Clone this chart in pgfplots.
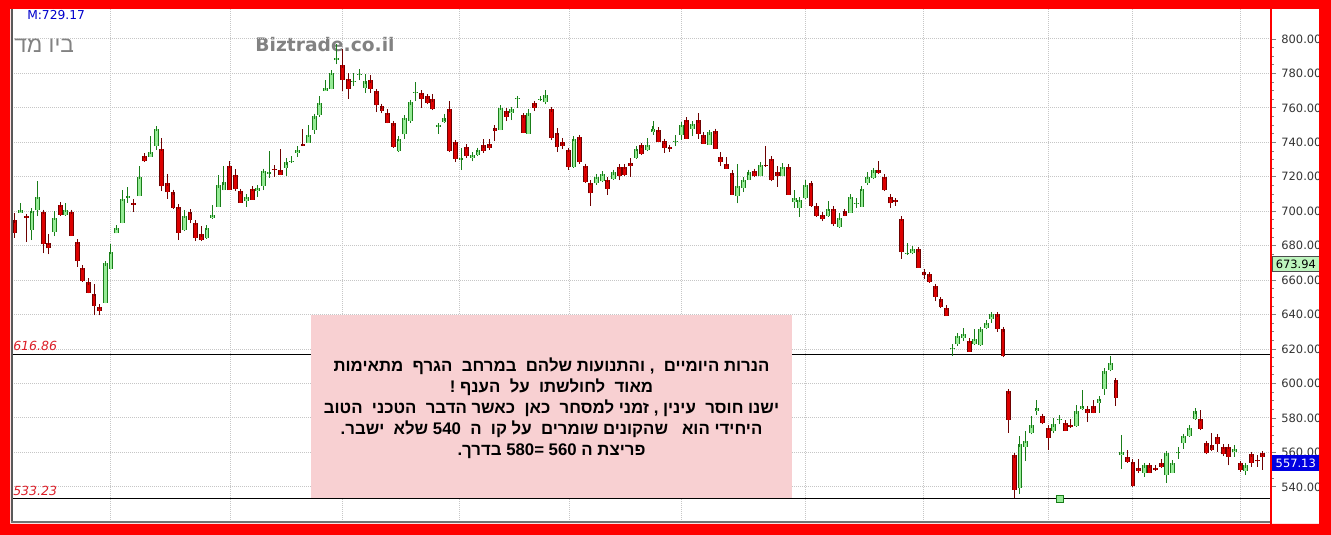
\documentclass[border=0pt]{standalone}
\usepackage{fontspec}
\usepackage{pgfplots}
\usepackage{pgfplotstable}
\pgfplotsset{compat=1.18}
\setmainfont{DejaVu Sans}
\newfontfamily\hebfont[Script=Hebrew]{Liberation Sans}
\TeXXeTstate=1
\definecolor{upfill}{RGB}{150,235,150}
\definecolor{updark}{RGB}{25,125,25}
\definecolor{dnfill}{RGB}{220,0,0}
\definecolor{dndark}{RGB}{110,0,0}
\definecolor{gridc}{RGB}{198,198,198}
\definecolor{pinkbox}{RGB}{248,208,210}
\definecolor{framered}{RGB}{255,0,0}
\definecolor{lblred}{RGB}{220,30,40}
\definecolor{wmgray}{RGB}{130,130,130}
\definecolor{lblgreen}{RGB}{190,245,190}
\definecolor{lblblue}{RGB}{0,0,225}

% candles: index, open, high, low, close
\pgfplotstableread{
i o h l c
2 699.1 704.9 699.1 701.0
4 689.0 700.4 683.2 700.4
5 700.6 717.4 697.1 708.4
8 688.0 700.0 685.5 696.2
10 698.1 704.9 697.5 701.0
17 646.8 670.1 646.5 669.7
18 666.6 680.7 666.2 676.3
19 687.1 691.7 687.1 690.4
20 693.3 712.6 692.9 707.2
21 707.8 714.2 704.9 709.1
23 708.7 726.5 708.7 720.0
25 731.6 743.6 731.6 734.5
26 737.8 747.8 735.8 747.8
31 689.0 700.6 688.4 697.5
35 684.6 691.7 684.0 690.4
36 696.2 703.9 695.6 698.1
37 702.6 721.3 702.6 715.1
38 712.2 726.2 712.2 716.9
42 705.8 709.7 702.6 708.4
44 711.6 714.2 708.4 713.6
45 714.9 724.2 712.2 723.3
46 721.9 734.9 719.4 722.7
49 725.2 731.0 720.7 728.5
50 728.7 732.0 728.1 729.4
51 733.9 737.8 731.6 735.8
53 739.7 750.3 739.7 744.5
54 747.4 756.1 745.1 755.2
55 755.6 767.0 754.8 762.9
56 769.7 776.1 769.7 771.7
57 771.1 780.4 770.7 780.4
58 787.7 796.9 785.2 789.1
61 775.4 780.0 772.6 775.7
62 779.2 782.7 776.1 779.6
63 771.7 779.4 768.8 775.5
69 734.9 742.6 734.3 742.0
70 744.6 755.6 742.0 754.2
71 752.3 763.9 751.3 763.3
72 768.8 775.0 763.9 769.2
76 749.0 750.4 745.1 749.8
77 751.9 756.2 751.3 753.9
80 729.6 736.8 723.8 731.0
82 731.0 733.9 729.0 732.9
83 732.9 736.2 732.3 735.5
87 747.1 760.1 747.1 760.1
89 757.2 760.1 752.9 759.1
90 764.9 766.4 760.1 765.5
92 745.1 759.1 745.1 756.8
94 764.7 765.9 763.9 765.3
95 763.3 770.3 762.0 767.2
100 725.8 742.6 725.2 742.0
104 716.1 720.7 715.5 720.0
105 717.4 722.7 716.9 721.9
107 718.8 723.3 718.4 722.7
111 731.0 736.8 730.4 736.2
113 735.5 742.6 734.9 738.7
114 746.1 752.3 744.5 747.8
118 740.5 744.0 737.8 740.9
119 744.5 751.3 741.6 750.3
121 747.8 751.3 743.6 750.9
124 738.7 747.0 738.7 745.9
129 708.7 727.7 704.5 714.9
130 713.6 720.0 711.1 718.4
131 718.4 724.2 718.0 722.7
133 720.7 727.1 720.4 727.1
137 720.7 728.1 720.4 725.8
139 705.3 712.2 702.0 707.8
140 702.0 707.2 696.8 706.8
141 707.8 718.4 707.2 715.5
145 697.5 705.8 696.8 701.4
147 690.9 699.1 690.4 696.2
149 699.1 709.7 699.1 708.4
150 704.5 707.8 702.0 704.9
151 702.6 714.2 702.6 713.0
152 716.5 722.7 715.5 720.0
153 719.4 724.2 718.8 723.8
159 675.5 681.7 674.9 675.9
160 675.5 680.1 674.9 678.2
167 620.0 622.9 616.2 620.4
168 622.9 628.7 621.9 627.7
169 626.7 632.5 624.8 628.7
171 622.9 631.9 622.3 625.8
172 622.3 631.9 621.9 631.5
173 632.5 637.0 631.5 635.4
174 637.3 641.2 635.4 640.2
179 539.6 569.5 535.8 564.7
180 563.3 572.4 555.0 566.6
181 571.0 581.1 570.5 575.7
182 583.9 590.7 582.0 585.9
185 572.4 580.1 571.0 576.2
186 578.8 581.5 576.2 579.5
189 575.3 587.8 574.9 583.9
190 585.3 596.5 584.5 587.2
193 588.8 593.0 583.0 591.1
194 596.9 609.0 593.6 607.1
195 607.7 616.1 607.1 611.9
197 558.3 569.9 550.6 560.2
201 548.3 553.7 546.0 552.5
205 546.8 560.2 542.1 559.5
206 548.3 555.0 547.9 554.1
207 559.5 563.3 556.4 560.2
208 565.3 570.5 562.2 569.5
209 569.5 574.9 569.1 574.3
210 579.5 585.9 579.1 583.9
217 560.2 564.1 557.5 562.2
219 549.3 553.7 546.8 552.5
}\uptable

\pgfplotstableread{
i o h l c
1 694.8 699.1 684.6 687.5
3 697.1 697.1 682.1 696.0
6 699.5 699.5 675.5 681.1
7 681.7 686.5 674.9 678.4
9 703.9 704.5 697.5 698.1
11 699.5 700.0 685.5 685.5
12 682.1 683.6 667.7 671.0
13 667.2 668.1 659.0 659.4
14 658.8 661.4 652.3 652.7
15 652.1 657.5 639.5 644.9
16 644.5 645.9 639.5 642.0
22 704.5 707.2 699.5 703.7
24 732.3 732.9 728.5 728.9
27 736.2 742.6 711.6 714.5
28 716.1 721.9 707.2 711.1
29 711.1 711.1 701.4 702.0
30 702.6 702.6 683.2 687.5
32 699.7 700.0 692.9 694.8
33 693.3 693.3 682.6 684.6
34 686.5 691.3 682.6 683.2
39 726.5 729.1 712.2 712.2
40 721.3 724.6 711.6 713.0
41 711.6 712.2 704.9 704.9
43 713.0 713.6 706.8 706.8
47 724.6 727.1 720.0 723.8
48 724.2 736.2 721.3 721.3
52 739.1 747.8 737.8 738.1
59 784.6 794.3 769.7 776.1
60 776.9 780.4 765.3 771.1
64 776.1 778.8 768.8 771.1
65 769.7 770.7 757.5 761.4
66 761.0 762.0 756.8 758.1
67 757.2 759.5 751.0 751.3
68 751.0 751.0 736.8 737.4
73 768.8 769.7 760.1 765.3
74 766.8 767.2 762.0 763.0
75 764.9 767.8 758.7 759.1
78 759.1 763.9 734.3 734.9
79 740.1 740.1 728.5 730.4
81 737.4 737.4 731.0 732.0
84 738.2 742.0 733.9 734.9
85 739.3 742.0 735.8 736.8
86 748.4 749.0 740.7 746.5
88 758.1 760.1 752.3 754.8
91 755.6 755.6 745.5 745.5
93 762.6 763.9 758.1 760.1
96 759.1 759.5 741.3 742.6
97 745.5 748.4 734.3 737.4
98 740.1 742.6 736.2 737.8
99 735.5 735.5 723.8 725.8
101 743.0 743.6 727.7 728.5
102 726.2 726.5 716.5 716.9
103 716.5 716.9 703.3 710.3
106 718.4 718.4 709.7 713.0
108 725.8 726.2 718.0 720.7
109 725.8 726.2 720.7 721.3
110 728.1 731.0 720.0 726.2
112 738.2 739.3 732.9 733.5
115 747.4 748.4 740.1 740.1
116 740.7 740.7 733.9 736.8
117 737.2 737.8 734.3 736.2
120 753.2 753.6 742.0 742.0
122 752.9 757.1 742.0 745.1
123 744.0 745.9 739.3 739.3
125 746.5 746.5 736.2 736.2
126 731.6 734.3 726.5 728.5
127 727.7 731.6 724.6 724.6
128 722.3 722.3 709.7 709.7
132 723.3 724.2 720.0 720.4
134 726.9 738.1 726.5 726.5
135 730.4 731.6 717.4 718.0
136 722.7 726.2 714.2 720.7
138 725.8 725.8 709.7 709.7
142 716.1 716.5 702.6 702.9
143 702.9 704.9 696.8 697.1
144 698.1 699.1 694.2 695.2
146 701.4 702.6 691.7 692.3
148 700.0 700.6 697.1 697.5
154 724.2 729.1 721.9 722.3
155 720.0 720.7 711.6 712.2
156 708.4 708.7 702.0 704.5
157 706.4 707.2 703.3 705.3
158 695.6 697.5 672.4 676.3
161 677.8 678.2 667.2 667.2
162 664.6 666.2 660.4 662.7
163 663.3 663.9 658.4 658.8
164 656.5 657.5 647.8 650.3
165 648.8 649.8 644.0 644.5
166 644.0 644.0 639.1 639.1
170 624.8 625.4 618.5 618.5
175 640.2 640.6 630.0 631.5
176 631.5 631.9 615.2 615.8
177 595.5 595.5 571.4 578.8
178 558.3 558.9 533.3 538.3
183 581.1 581.5 576.2 576.8
184 574.3 574.9 561.4 568.5
187 577.2 578.2 572.4 572.4
188 575.7 579.5 574.3 574.9
191 585.3 585.9 577.6 583.0
192 586.8 590.7 582.6 583.0
196 601.9 601.9 587.2 591.7
198 557.5 561.4 554.1 554.5
199 554.5 555.0 540.2 540.6
200 551.2 556.4 547.9 549.3
202 552.5 552.9 547.9 548.3
203 551.2 551.6 549.3 549.8
204 553.7 556.4 551.2 551.8
211 579.5 584.5 573.0 573.7
212 565.3 566.0 558.9 559.5
213 564.1 571.4 560.8 561.4
214 569.1 569.5 560.2 564.7
215 563.3 564.1 557.9 558.9
216 563.3 563.7 552.5 557.5
218 553.7 554.5 548.7 549.8
220 558.9 559.5 551.8 554.1
221 555.6 558.3 551.8 554.8
222 559.5 559.9 549.8 557.13
}\dntable

\begin{document}
\begin{tikzpicture}[x=0.75pt,y=0.75pt]
\useasboundingbox (0,0) rectangle (1331,535);
\fill[white] (0,0) rectangle (1331,535);
% watermark texts
\node[anchor=west, text=wmgray, font=\hebfont\fontsize{17}{18}\selectfont, inner sep=0pt] at (14,489) {\beginR ביו מד\endR};
\node[text=wmgray, font=\bfseries\fontsize{14}{15}\selectfont, inner sep=0pt] at (325,490) {Biztrade.co.il};
\begin{axis}[
  at={(9pt,9.75pt)}, anchor=south west,
  width=944.25pt, height=384.75pt, scale only axis,
  xmin=0.469, xmax=223.46, ymin=519.6, ymax=817.4,
  axis line style={draw=none},
  xtick=\empty,
  ytick={540,560,...,800},
  minor y tick num=3,
  yticklabel pos=right, ytick pos=right,
  tick align=outside,
  major tick length=3.75pt, minor tick length=2pt,
  tick style={gray, line width=0.6pt},
  ymajorgrids,
  major grid style={gridc, dash pattern=on 0.6pt off 0.9pt, line width=0.75pt},
  yticklabel style={text=black!80, font=\fontsize{8.6}{9}\selectfont, xshift=0.5pt,
    /pgf/number format/.cd, fixed, fixed zerofill, precision=2, assume math mode=true},
]
% vertical grid lines
\pgfplotsinvokeforeach{18,39.1,59,79.8,99.2,119.1,141,161.9,184,199,218}{
  \addplot[gridc, dash pattern=on 0.6pt off 0.9pt, line width=0.75pt, forget plot] coordinates {(#1,519.6) (#1,817.4)};
}
% level lines
\addplot[black, line width=0.8pt, forget plot] coordinates {(0.469,616.86) (223.46,616.86)};
\addplot[black, line width=0.8pt, forget plot] coordinates {(0.469,533.23) (223.46,533.23)};
% wicks
\addplot[draw=none, mark=none, forget plot, error bars/.cd, y dir=plus, y explicit, error mark=none,
  error bar style={draw=updark, line width=0.75pt}]
  table[x=i, y=l, y error plus expr=\thisrow{h}-\thisrow{l}] {\uptable};
\addplot[draw=none, mark=none, forget plot, error bars/.cd, y dir=plus, y explicit, error mark=none,
  error bar style={draw=dndark, line width=0.75pt}]
  table[x=i, y=l, y error plus expr=\thisrow{h}-\thisrow{l}] {\dntable};
% bodies outline
\addplot[draw=none, mark=none, forget plot, error bars/.cd, y dir=plus, y explicit, error mark=none,
  error bar style={draw=updark, line width=3.6pt}]
  table[x=i, y=o, y error plus expr=\thisrow{c}-\thisrow{o}] {\uptable};
\addplot[draw=none, mark=none, forget plot, error bars/.cd, y dir=plus, y explicit, error mark=none,
  error bar style={draw=dndark, line width=3.6pt}]
  table[x=i, y=c, y error plus expr=\thisrow{o}-\thisrow{c}] {\dntable};
% bodies fill
\addplot[draw=none, mark=none, forget plot, error bars/.cd, y dir=plus, y explicit, error mark=-,
  error bar style={draw=upfill, line width=2.1pt},
  error mark options={draw=updark, line width=0.75pt, mark size=1.8pt}]
  table[x=i, y=o, y error plus expr=\thisrow{c}-\thisrow{o}] {\uptable};
\addplot[draw=none, mark=none, forget plot, error bars/.cd, y dir=plus, y explicit, error mark=-,
  error bar style={draw=dnfill, line width=2.1pt},
  error mark options={draw=dndark, line width=0.75pt, mark size=1.8pt}]
  table[x=i, y=c, y error plus expr=\thisrow{o}-\thisrow{c}] {\dntable};
% marker on the support line
\addplot[only marks, mark=square*, mark size=2.6pt, mark options={fill=upfill, draw=updark, line width=0.6pt}, forget plot] coordinates {(186,533.23)};
\end{axis}
% frame lines
\fill[black!65] (10.5,13) rectangle (12.5,526);
\fill[black!55] (10.5,12) rectangle (1271,14);
\draw[red, line width=1.1pt] (1271,11) -- (1271,526);
% level labels
\node[anchor=south west, text=lblred, font=\itshape\fontsize{9.4}{10}\selectfont, inner sep=0pt] at (13,184) {616.86};
\node[anchor=south west, text=lblred, font=\itshape\fontsize{9.4}{10}\selectfont, inner sep=0pt] at (13,39) {533.23};
\node[anchor=west, text=blue!80!black, font=\fontsize{9.2}{10}\selectfont, inner sep=0pt] at (27,520) {M:729.17};
% right value boxes
\node[anchor=west, draw=black!70, fill=lblgreen, text=black, font=\fontsize{8.6}{9}\selectfont, inner sep=0pt, minimum width=35.25pt, minimum height=11.25pt, line width=0.5pt] at (1272,271) {673.94};
\node[anchor=west, draw=lblblue, fill=lblblue, text=white, font=\fontsize{8.6}{9}\selectfont, inner sep=0pt, minimum width=35.25pt, minimum height=11.25pt] at (1272,72) {557.13};
% comment box
\fill[pinkbox] (311,37) rectangle (792,220);
\node[align=center, font=\hebfont\bfseries\fontsize{12.6}{15.75}\selectfont, inner sep=0pt] at (551.5,127) {%
\beginR הנרות היומיים\ \ , והתנועות שלהם\ \ במרחב\ \ הגרף\ \ מתאימות\endR\\
\beginR מאוד\ \ לחולשתו\ \ על\ \ הענף !\endR\\
\beginR ישנו חוסר\ \ עינין , זמני למסחר\ \ כאן\ \ כאשר הדבר\ \ הטכני\ \ הטוב\endR\\
\beginR היחידי הוא\ \ \ שהקונים שומרים\ \ על קו\ \ ה\ \ \beginL 540\endL{} שלא\ \ ישבר.\endR\\
\beginR פריצת ה \beginL 560\endL{} =\beginL 580\endL{} בדרך.\endR};
% red outer frame
\fill[framered, even odd rule] (0,0) rectangle (1331,535) (10,11) rectangle (1319,526);
\end{tikzpicture}
\end{document}
